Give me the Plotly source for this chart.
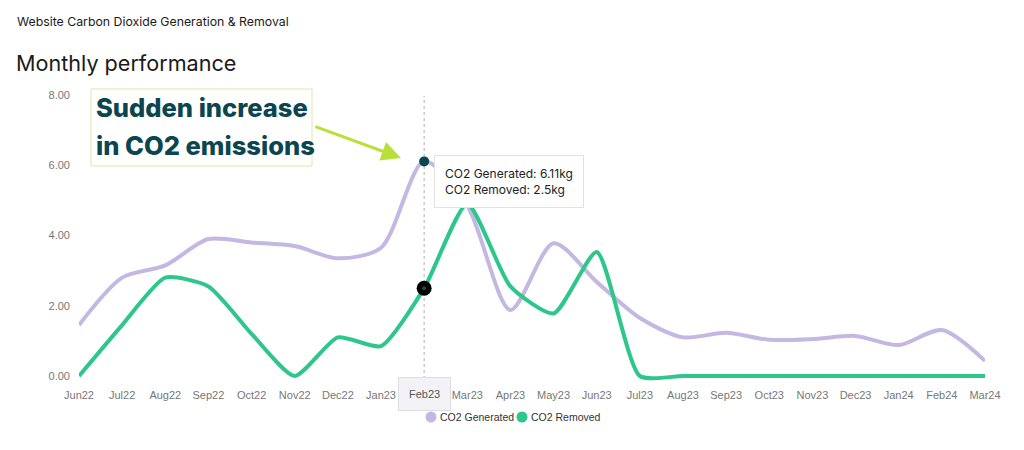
import plotly.graph_objects as go

months = ["Jun22", "Jul22", "Aug22", "Sep22", "Oct22", "Nov22", "Dec22", "Jan23",
          "Feb23", "Mar23", "Apr23", "May23", "Jun23", "Jul23", "Aug23", "Sep23",
          "Oct23", "Nov23", "Dec23", "Jan24", "Feb24", "Mar24"]
co2_generated = [1.45, 2.8, 3.15, 3.9, 3.8, 3.7, 3.35, 3.65, 6.11, 4.85, 1.88, 3.78,
                 2.68, 1.65, 1.1, 1.23, 1.03, 1.05, 1.14, 0.88, 1.31, 0.43]
co2_removed = [0.0, 1.45, 2.8, 2.55, 1.2, 0.0, 1.1, 0.85, 2.5, 4.9, 2.55, 1.78,
               3.53, 0.0, 0.0, 0.0, 0.0, 0.0, 0.0, 0.0, 0.0, 0.0]
series_names = ["CO2 Generated", "CO2 Removed"]
callout_lines = ["Sudden increase", "in CO2 emissions"]
y_ticks = [0, 2, 4, 6, 8]
focus_month = "Feb23"

PURPLE = "#c4b8e2"
GREEN = "#2fc68c"
TEAL = "#0b4650"
LIME = "#b9e03a"

# page body has an 8px offset; plot area in page pixels
PL, PR, PT, PB = 79, 985, 95, 381
W, H = 1016, 442
YMIN = -5 / 35.125


def px(xp):
    return (xp - PL) / (PR - PL)


def py(yp):
    return (PB - yp) / (PB - PT)


def dx(xp):
    return (xp - PL) / ((PR - PL) / (len(months) - 1))


def dy(yp):
    return (376 - yp) / 35.125


idx = list(range(len(months)))
fi = months.index(focus_month)

fig = go.Figure()
fig.add_trace(go.Scatter(x=idx, y=co2_generated, mode="lines", name=series_names[0],
                         line=dict(color=PURPLE, width=4, shape="spline", smoothing=0.8),
                         showlegend=False))
fig.add_trace(go.Scatter(x=idx, y=co2_removed, mode="lines", name=series_names[1],
                         line=dict(color=GREEN, width=4, shape="spline", smoothing=0.6),
                         showlegend=False))
# hovered points
fig.add_trace(go.Scatter(x=[fi], y=[co2_generated[fi]], mode="markers", showlegend=False,
                         marker=dict(color=TEAL, size=10), cliponaxis=False))
fig.add_trace(go.Scatter(x=[fi], y=[co2_removed[fi]], mode="markers", showlegend=False,
                         marker=dict(color="#000000", size=15), cliponaxis=False))
fig.add_trace(go.Scatter(x=[fi], y=[co2_removed[fi]], mode="markers", showlegend=False,
                         marker=dict(color="#1f4a48", size=4), cliponaxis=False))

# vertical dotted guide line
fig.add_shape(type="line", xref="x", yref="paper", x0=fi, x1=fi, y0=py(379), y1=py(96),
              line=dict(color="#b0b0b0", width=1, dash="dot"), layer="below")

# callout box
fig.add_shape(type="rect", xref="paper", yref="paper",
              x0=px(91), x1=px(312), y0=py(166), y1=py(89),
              fillcolor="white", line=dict(color="#dfe6a8", width=1))

# manual legend (circle markers close to text)
legend_items = [(431, PURPLE, series_names[0]), (522, GREEN, series_names[1])]
annotations = []
for cx, col, name in legend_items:
    fig.add_shape(type="circle", xref="paper", yref="paper",
                  x0=px(cx - 5.5), x1=px(cx + 5.5), y0=py(417 + 5.5), y1=py(417 - 5.5),
                  fillcolor=col, line=dict(width=0))
    annotations.append(dict(text=name, xref="paper", yref="paper", x=px(cx + 7), y=py(417),
                            xanchor="left", yanchor="middle", showarrow=False,
                            font=dict(size=10.5, color="#333333", family="Liberation Sans")))

for line_text, ly in zip(callout_lines, [108, 145]):
    annotations.append(dict(text=line_text, xref="paper", yref="paper",
                            x=px(94), y=py(ly), xanchor="left", yanchor="middle",
                            showarrow=False,
                            font=dict(size=25.5, color=TEAL, family="Inter", weight=800)))

annotations += [
    dict(text="Website Carbon Dioxide Generation &amp; Removal", xref="paper", yref="paper",
         x=px(15), y=py(21), xanchor="left", yanchor="middle",
         showarrow=False, font=dict(size=12.3, color="#1a1a1a", family="Inter")),
    dict(text="Monthly performance", xref="paper", yref="paper",
         x=px(14), y=py(63), xanchor="left", yanchor="middle",
         showarrow=False, font=dict(size=21.6, color="#1a1a1a", family="Inter")),
    dict(text="", xref="x", yref="y", x=dx(401), y=dy(158),
         axref="x", ayref="y", ax=dx(314), ay=dy(126),
         showarrow=True, arrowhead=2, arrowsize=1.3, arrowwidth=3, arrowcolor=LIME),
    dict(text="%s: %.2fkg<br>%s: %skg" % (series_names[0], co2_generated[fi],
                                         series_names[1], co2_removed[fi]),
         xref="paper", yref="paper", x=px(434), y=py(155),
         xanchor="left", yanchor="top", align="left", showarrow=False,
         bgcolor="white", bordercolor="#e2e2e2", borderwidth=1, borderpad=10,
         font=dict(size=12, color="#222222", family="Inter")),
    dict(text=focus_month, xref="x", yref="paper", x=fi, y=py(394),
         xanchor="center", yanchor="middle", showarrow=False,
         bgcolor="#f3f3f7", bordercolor="#dcdce4", borderwidth=1, borderpad=10,
         font=dict(size=11, color="#555555", family="Liberation Sans")),
]

fig.update_layout(
    width=W, height=H,
    margin=dict(l=PL - 8, r=W + 8 - PR, t=PT - 8, b=H + 8 - PB),
    paper_bgcolor="white", plot_bgcolor="white",
    showlegend=False,
    annotations=annotations,
    xaxis=dict(range=[0, len(months) - 1], tickmode="array", tickvals=idx, ticktext=months,
               showgrid=False, zeroline=False, showline=False, ticks="",
               tickfont=dict(size=11, color="#777777", family="Liberation Sans"),
               ticklabelstandoff=6),
    yaxis=dict(range=[YMIN, 8], tickmode="array", tickvals=y_ticks, tickformat=".2f",
               showgrid=False, zeroline=False, showline=False, ticks="",
               tickfont=dict(size=11, color="#777777", family="Liberation Sans"),
               ticklabelstandoff=8),
)

fig.write_html("out.html")
